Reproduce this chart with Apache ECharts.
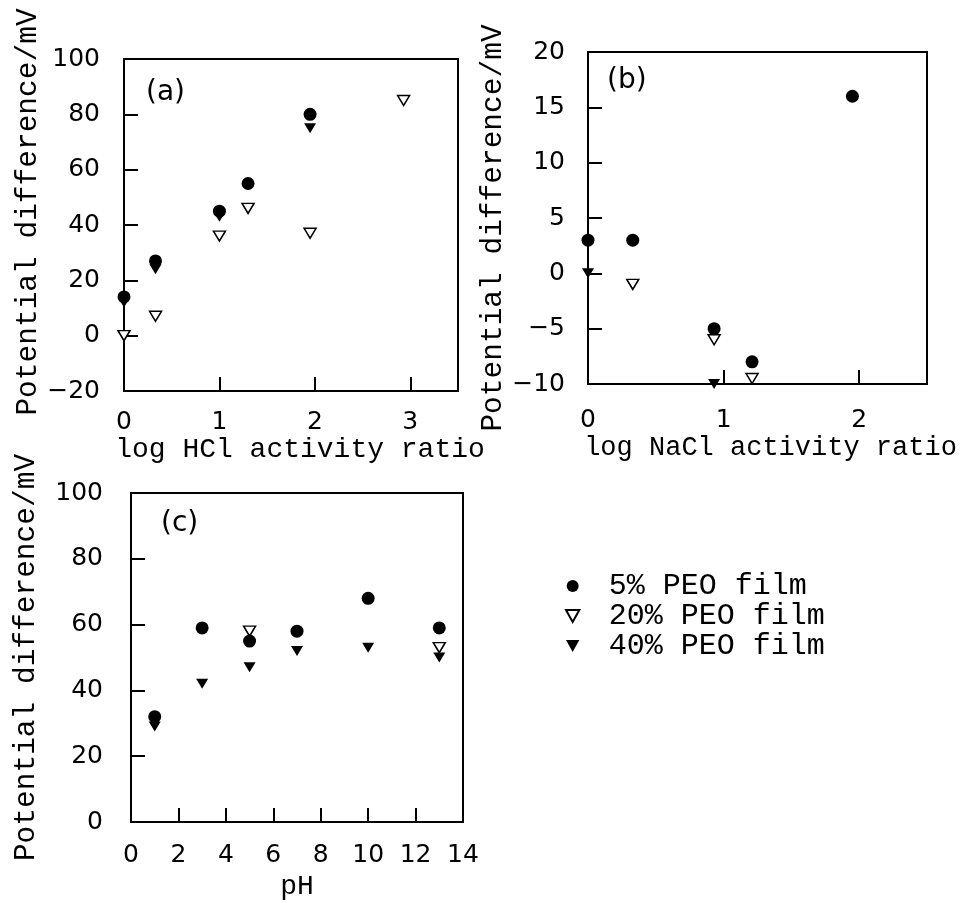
<!DOCTYPE html>
<html><head><meta charset="utf-8">
<script src="https://cdn.jsdelivr.net/npm/echarts@6/dist/echarts.min.js"></script>
<style>html,body{margin:0;padding:0;background:#fff}#c{width:965px;height:903px}</style>
</head><body><div id="c"></div>
<script>
// Panel (a): log HCl activity ratio
const hclX5 = [0, 0.33, 1.0, 1.3, 1.95];
const hclY5 = [14, 27, 45, 55, 80];
const hclX20 = [0, 0.33, 1.0, 1.3, 1.95, 2.93];
const hclY20 = [0, 7, 36, 46, 37, 85];
const hclX40 = [0, 0.33, 1.0, 1.95];
const hclY40 = [12, 24, 43, 75];
// Panel (b): log NaCl activity ratio
const naclX5 = [0, 0.33, 0.93, 1.21, 1.95];
const naclY5 = [3, 3, -5, -8, 16];
const naclX20 = [0.33, 0.93, 1.21];
const naclY20 = [-1, -6, -9.5];
const naclX40 = [0, 0.93];
const naclY40 = [0, -10];
// Panel (c): pH
const phX5 = [1, 3, 5, 7, 10, 13];
const phY5 = [32, 59, 55, 58, 68, 59];
const phX20 = [5, 13];
const phY20 = [58, 53];
const phX40 = [1, 3, 5, 7, 10, 13];
const phY40 = [29, 42, 47, 52, 53, 50];

const names = ['5% PEO film', '20% PEO film', '40% PEO film'];
const yName = 'Potential difference/mV';
const xNames = ['log HCl activity ratio', 'log NaCl activity ratio', 'pH'];

const zip = (a, b) => a.map((v, i) => [v, b[i]]);
const tri = 'path://M0,0L10,0L5,9Z';
const mono = 'Liberation Mono';
const sans = 'DejaVu Sans';
const fmt = v => String(v).replace('-', '\u2212');

function grid(left, top, width, height) {
  return {left, top, width, height, show: true, borderColor: '#000', borderWidth: 2, backgroundColor: 'transparent', containLabel: false};
}
function lab(margin, extra) {
  return Object.assign({color: '#000', fontFamily: sans, fontSize: 25, margin, formatter: fmt}, extra || {});
}
function axisCommon(extra) {
  return Object.assign({
    type: 'value',
    splitLine: {show: false},
    axisLine: {show: true, onZero: false, lineStyle: {color: '#000', width: 2}},
    axisTick: {show: true, inside: true, length: 14, lineStyle: {color: '#000', width: 2}},
    nameLocation: 'middle'
  }, extra);
}
const nameStyle = (size, pad) => ({color: '#000', fontFamily: mono, fontSize: size, padding: pad});

function sc(name, data, gi) {
  const base = {type: 'scatter', name, data, xAxisIndex: gi, yAxisIndex: gi, clip: false, emphasis: {disabled: true}};
  if (name === names[0]) return Object.assign(base, {symbol: 'circle', symbolSize: 13, z: 4, itemStyle: {color: '#000', opacity: 1}});
  if (name === names[1]) return Object.assign(base, {symbol: tri, symbolSize: [12, 10], z: 2, itemStyle: {color: '#fff', borderColor: '#000', borderWidth: 1.5, opacity: 1}});
  return Object.assign(base, {symbol: tri, symbolSize: [12, 10], z: 3, itemStyle: {color: '#000', opacity: 1}});
}

const option = {
  backgroundColor: '#fff',
  animation: false,
  title: [
    {text: '(a)', left: 141, top: 74, textStyle: {fontFamily: sans, fontSize: 28, fontWeight: 'normal', color: '#000'}},
    {text: '(b)', left: 602, top: 62, textStyle: {fontFamily: sans, fontSize: 28, fontWeight: 'normal', color: '#000'}},
    {text: '(c)', left: 156, top: 505, textStyle: {fontFamily: sans, fontSize: 28, fontWeight: 'normal', color: '#000'}}
  ],
  legend: {
    data: names, orient: 'vertical', left: 560, top: 566, itemWidth: 48, itemHeight: 12, itemGap: 0,
    textStyle: {fontFamily: mono, fontSize: 30, color: '#000', padding: [0, 0, 0, 7], lineHeight: 30},
    selectedMode: false
  },
  grid: [grid(124, 59, 334, 332), grid(588, 52, 339, 332), grid(131, 493, 332, 329)],
  xAxis: [
    axisCommon({gridIndex: 0, min: 0, max: 3.5, interval: 1, name: xNames[0], nameGap: 45, nameTextStyle: nameStyle(28, [0, 0, 0, 18]), axisLabel: lab(19, {showMaxLabel: false})}),
    axisCommon({gridIndex: 1, min: 0, max: 2.5, interval: 1, name: xNames[1], nameGap: 43, nameTextStyle: nameStyle(27, [0, 0, 0, 26]), axisLabel: lab(24, {showMaxLabel: false})}),
    axisCommon({gridIndex: 2, min: 0, max: 14, interval: 2, name: xNames[2], nameGap: 51, nameTextStyle: nameStyle(28, [0, 0, 0, 0]), axisLabel: lab(21)})
  ],
  yAxis: [
    axisCommon({gridIndex: 0, min: -20, max: 100, interval: 20, name: yName, nameGap: 81, nameTextStyle: nameStyle(29.5, [0, 0, 0, 26]), axisLabel: lab(24)}),
    axisCommon({gridIndex: 1, min: -10, max: 20, interval: 5, name: yName, nameGap: 66, nameTextStyle: nameStyle(29.5, [0, 20, 0, 0]), axisLabel: lab(23)}),
    axisCommon({gridIndex: 2, min: 0, max: 100, interval: 20, name: yName, nameGap: 90, nameTextStyle: nameStyle(29.5, [0, 0, 0, 0]), axisLabel: lab(28)})
  ],
  series: [
    sc(names[1], zip(hclX20, hclY20), 0),
    sc(names[2], zip(hclX40, hclY40), 0),
    sc(names[0], zip(hclX5, hclY5), 0),
    sc(names[1], zip(naclX20, naclY20), 1),
    sc(names[2], zip(naclX40, naclY40), 1),
    sc(names[0], zip(naclX5, naclY5), 1),
    sc(names[1], zip(phX20, phY20), 2),
    sc(names[2], zip(phX40, phY40), 2),
    sc(names[0], zip(phX5, phY5), 2)
  ]
};
const chart = echarts.init(document.getElementById('c'), null, {renderer: 'canvas'});
chart.setOption(option);
</script></body></html>
